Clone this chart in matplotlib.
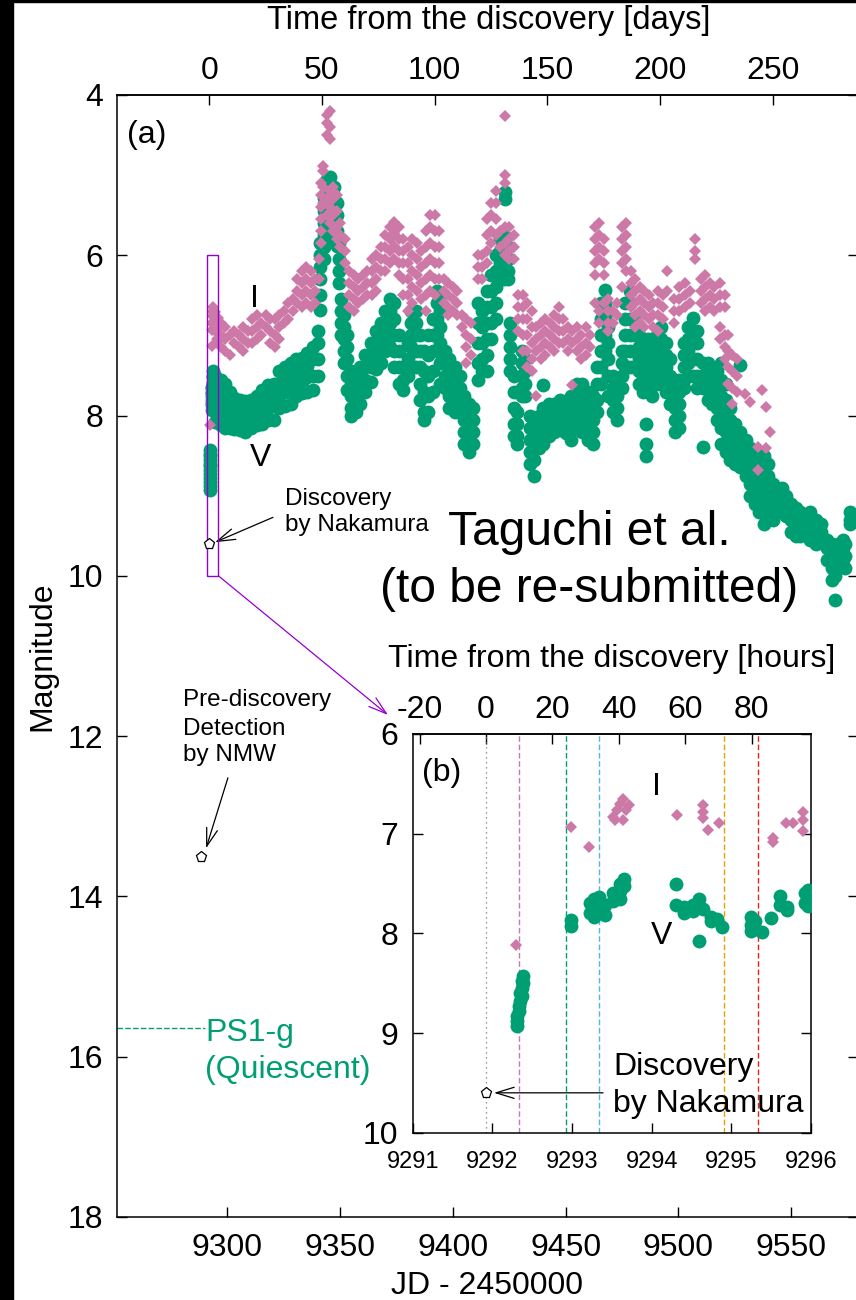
import matplotlib
matplotlib.use("Agg")
import matplotlib.pyplot as plt
from matplotlib.patches import Rectangle
import numpy as np

plt.rcParams["font.family"] = ["Liberation Sans", "DejaVu Sans"]
plt.rcParams["axes.unicode_minus"] = False

T0 = 9291.92  # discovery epoch, JD - 2450000

# V band: (JD - 2450000, magnitudes at that epoch)
V_FIRST_DAYS = [
    (9292.31, [8.83, 8.88, 8.93]), (9292.33, [8.73, 8.78]), (9292.35, [8.60, 8.68]),
    (9292.37, [8.48, 8.55, 8.63]), (9292.39, [8.43, 8.50]), (9292.99, [7.87, 7.93]),
    (9293.22, [7.70, 7.80]), (9293.28, [7.66, 7.76, 7.84]), (9293.34, [7.64, 7.72]),
    (9293.42, [7.72, 7.82]), (9293.52, [7.60, 7.68]), (9293.60, [7.50, 7.58, 7.66]),
    (9293.65, [7.45, 7.52]), (9294.31, [7.50, 7.72]), (9294.40, [7.74, 7.80]),
    (9294.52, [7.72, 7.78]), (9294.60, [7.66, 8.08]), (9294.65, [7.76]),
    (9294.75, [7.84, 7.88]), (9294.82, [7.86]), (9294.88, [7.94]),
    (9295.25, [7.84, 7.92, 7.98]), (9295.30, [7.88, 7.96]), (9295.38, [7.99]),
    (9295.50, [7.85]), (9295.61, [7.63, 7.72]), (9295.70, [7.74, 7.77]),
    (9295.92, [7.60, 7.70]), (9295.96, [7.57, 7.66, 7.73]),
]
V_OBS = [
    (9297, [7.55, 7.7, 7.85, 8.0, 8.12]), (9299, [7.6, 7.75, 7.9, 8.05, 8.15]),
    (9301, [7.7, 7.85, 8.0, 8.15]), (9303, [7.78, 7.9, 8.05, 8.17]),
    (9305.5, [7.8, 7.95, 8.1, 8.18]), (9308, [7.82, 7.95, 8.08, 8.2]),
    (9310.5, [7.8, 7.92, 8.05, 8.15]), (9313, [7.75, 7.88, 8.0, 8.12]),
    (9315.5, [7.68, 7.8, 7.95, 8.1]), (9318, [7.62, 7.75, 7.9, 8.05]),
    (9320.5, [7.6, 7.72, 7.88, 8.05]), (9323, [7.45, 7.6, 7.75, 7.9]),
    (9325.5, [7.4, 7.55, 7.7, 7.88]), (9328, [7.35, 7.5, 7.65, 7.85]),
    (9330.5, [7.3, 7.45, 7.6, 7.75]), (9333, [7.28, 7.42, 7.58, 7.72]),
    (9335.5, [7.22, 7.38, 7.52, 7.7]), (9338, [7.15, 7.3, 7.5, 7.68]),
    (9340, [6.95, 7.1, 7.3, 7.5]), (9341.2, [5.85, 6.0, 6.15, 6.3, 6.5, 6.68]),
    (9342.7, [5.28, 5.45, 5.6, 5.75, 5.9, 6.05]), (9344, [5.05, 5.2, 5.35, 5.5, 5.7]),
    (9345.5, [5.02, 5.18, 5.35, 5.55, 5.8]), (9347.2, [5.15, 5.3, 5.45, 5.62]),
    (9348.7, [5.35, 5.5, 5.7, 5.88]), (9349.5, [5.85, 6.05, 6.2, 6.35]),
    (9350.3, [6.55, 6.7, 6.85, 7.0]), (9351.5, [6.75, 6.9, 7.05, 7.2, 7.35]),
    (9353, [7.0, 7.15, 7.3, 7.5, 7.68]), (9355, [7.45, 7.6, 7.75, 7.9, 8.0]),
    (9357, [7.6, 7.72, 7.85, 7.95]), (9359, [7.4, 7.55, 7.7, 7.85]),
    (9361, [7.25, 7.4, 7.55, 7.7]), (9363.5, [7.1, 7.25, 7.4, 7.58]),
    (9366, [6.95, 7.1, 7.25, 7.42]), (9368, [6.85, 7.0, 7.15, 7.35]),
    (9370, [6.7, 6.85, 7.0, 7.2]), (9372, [6.55, 6.7, 6.85, 7.0, 7.15]),
    (9374, [6.6, 6.8, 7.0, 7.2, 7.4]), (9376, [7.0, 7.2, 7.4, 7.6]),
    (9378, [7.4, 7.55, 7.68]), (9380, [7.1, 7.3, 7.5]),
    (9381.5, [6.7, 6.85, 7.0, 7.15]), (9383.5, [6.7, 6.85, 7.0, 7.2, 7.4]),
    (9385.5, [7.0, 7.2, 7.4, 7.6, 7.8]), (9387, [7.2, 7.45, 7.7, 7.95, 8.05]),
    (9389, [7.0, 7.25, 7.5, 7.75, 7.95]), (9391, [6.8, 7.0, 7.2, 7.45, 7.7]),
    (9393, [6.45, 6.6, 6.8, 7.0, 7.2]), (9394.5, [6.5, 6.7, 6.9, 7.1, 7.35, 7.6]),
    (9396.5, [7.2, 7.35, 7.5, 7.65]), (9398.5, [7.3, 7.45, 7.6, 7.75, 7.9]),
    (9401, [7.4, 7.55, 7.7, 7.85, 7.95]), (9403, [7.5, 7.65, 7.8, 7.95]),
    (9405, [7.75, 7.9, 8.05, 8.2, 8.35]), (9407, [7.85, 8.0, 8.15, 8.3, 8.45]),
    (9409, [7.9, 8.05, 8.2, 8.35]), (9411, [6.6, 6.85, 7.1, 7.35, 7.55]),
    (9413, [6.7, 6.9, 7.1, 7.3, 7.45]), (9415, [6.45, 6.65, 6.85, 7.05, 7.25, 7.45]),
    (9417, [6.25, 6.45, 6.65, 6.85, 7.05]), (9419, [6.0, 6.2, 6.4, 6.6, 6.8]),
    (9421, [5.8, 5.95, 6.1, 6.25]), (9422.5, [5.75, 5.9, 6.05, 6.2, 6.3]),
    (9423.2, [5.21, 5.3]), (9424.5, [5.9, 6.05, 6.2, 6.3]),
    (9425.5, [6.85, 7.0, 7.15, 7.3, 7.45]), (9427, [7.5, 7.7, 7.9, 8.1, 8.25]),
    (9428.5, [7.95, 8.1, 8.25, 8.35]), (9430.5, [7.2, 7.35, 7.5, 7.65, 7.75]),
    (9432, [7.3, 7.45, 7.6, 7.75]), (9434, [8.0, 8.15, 8.3, 8.45, 8.6]),
    (9436, [8.1, 8.25, 8.4, 8.55, 8.75]), (9438, [8.0, 8.15, 8.3, 8.4]),
    (9440, [7.62, 7.9, 8.05, 8.2, 8.35]), (9442.5, [7.85, 7.95, 8.05, 8.15, 8.25]),
    (9445, [7.85, 7.95, 8.08, 8.2]), (9447.5, [7.8, 7.92, 8.05, 8.18]),
    (9450, [7.82, 7.95, 8.08, 8.22]), (9452.5, [7.75, 7.88, 8.0, 8.15, 8.3]),
    (9455, [7.6, 7.72, 7.85, 8.0, 8.15]), (9457.5, [7.6, 7.75, 7.9, 8.05, 8.2]),
    (9460, [7.7, 7.85, 8.0, 8.15, 8.3]), (9462, [7.75, 7.9, 8.05, 8.2, 8.36]),
    (9464, [7.4, 7.6, 7.8, 7.95]), (9465.5, [6.6, 6.8, 7.0, 7.2, 7.4, 7.6]),
    (9467.5, [6.43, 6.6, 6.8, 7.0, 7.2]), (9469, [6.7, 6.9, 7.1, 7.3, 7.5, 7.75]),
    (9471, [7.5, 7.65, 7.8, 7.95]), (9473, [7.6, 7.75, 7.9, 8.05]),
    (9475, [7.2, 7.35, 7.5, 7.65]), (9476.5, [6.6, 6.8, 7.0, 7.2, 7.4]),
    (9478.5, [6.45, 6.6, 6.8, 7.0, 7.2, 7.4]), (9480.5, [6.8, 7.0, 7.2, 7.4]),
    (9482.5, [7.0, 7.15, 7.3, 7.45, 7.6]), (9484.5, [7.1, 7.25, 7.4, 7.55, 7.7]),
    (9485.5, [8.1, 8.36, 8.5]), (9486.5, [7.05, 7.2, 7.35, 7.5, 7.65]),
    (9488.5, [7.15, 7.3, 7.45, 7.6, 7.75]), (9490.5, [7.0, 7.15, 7.3, 7.45, 7.6]),
    (9492.5, [6.9, 7.05, 7.2, 7.35, 7.5]), (9494.5, [7.1, 7.25, 7.4, 7.55, 7.7]),
    (9496.5, [7.3, 7.5, 7.7, 7.85]), (9498.5, [7.6, 7.75, 7.9, 8.05, 8.2]),
    (9500.5, [7.55, 7.7, 7.85, 8.0, 8.15]), (9502.5, [7.1, 7.25, 7.4, 7.55, 7.65]),
    (9504.5, [6.9, 7.05, 7.2, 7.35, 7.5]), (9506.5, [6.78, 6.95, 7.1, 7.3, 7.5]),
    (9508.5, [6.95, 7.1, 7.3, 7.5, 7.65]), (9511, [7.35, 7.5, 7.65, 8.39]),
    (9513, [7.35, 7.5, 7.65, 7.8]), (9515, [7.4, 7.55, 7.7, 7.85]),
    (9517, [7.45, 7.6, 7.75, 7.9, 8.05]), (9519, [7.35, 7.55, 7.75, 7.95, 8.15, 8.35]),
    (9521, [7.6, 7.8, 8.0, 8.2, 8.45]), (9523, [7.9, 8.05, 8.2, 8.35, 8.55]),
    (9525, [8.1, 8.25, 8.4, 8.6]), (9527.5, [7.37, 8.2, 8.35, 8.5, 8.64]),
    (9530, [8.3, 8.45, 8.6, 8.75]), (9532, [8.4, 8.55, 8.7, 8.85, 9.0]),
    (9534, [8.5, 8.65, 8.8, 8.95, 9.1]), (9536, [8.45, 8.6, 8.75, 8.9, 9.05, 9.2]),
    (9538, [8.5, 8.65, 8.8, 9.0, 9.2, 9.35]), (9540, [8.6, 8.75, 8.9, 9.05, 9.2]),
    (9542, [8.85, 9.0, 9.15, 9.3]), (9544, [8.9, 9.0, 9.1]),
    (9546, [8.9, 9.05, 9.2]), (9548, [9.0, 9.1, 9.25]),
    (9550, [9.1, 9.2, 9.3, 9.45]), (9552, [9.15, 9.25, 9.35, 9.5]),
    (9554, [9.2, 9.3, 9.4, 9.5]), (9556, [9.25, 9.35, 9.45]),
    (9558.5, [9.2, 9.35, 9.5, 9.55]), (9561, [9.3, 9.4, 9.5, 9.6]),
    (9563.5, [9.35, 9.45, 9.55]), (9566, [9.55, 9.65, 9.8]),
    (9568, [9.6, 9.75, 9.9, 10.05]), (9569.5, [9.85, 10.0, 10.3]),
    (9571, [9.6, 9.7, 9.8]), (9573, [9.55, 9.65, 9.8]),
    (9574, [9.6, 9.75, 9.9]), (9576, [9.2, 9.3, 9.35]), (9578, [9.25, 9.3]),
]

# I band
I_FIRST_DAYS = [
    (9292.30, [8.12]), (9292.99, [6.93]), (9293.21, [7.13]), (9293.52, [6.83]),
    (9293.54, [6.86]), (9293.56, [6.76]), (9293.60, [6.70]), (9293.64, [6.65, 6.86]),
    (9293.68, [6.76]), (9293.71, [6.71]), (9294.32, [6.81]), (9294.65, [6.71, 6.78, 6.84]),
    (9294.71, [6.96]), (9294.84, [6.89]), (9295.52, [7.04, 7.08]), (9295.69, [6.89]),
    (9295.77, [6.89]), (9295.90, [6.78, 6.86, 6.97]),
]
I_OBS = [
    (9297, [6.85, 7.0, 7.15]), (9299, [6.9, 7.05, 7.2]), (9301, [7.0, 7.25]),
    (9303, [6.95, 7.1]), (9305, [7.0, 7.15]), (9307, [6.9, 7.05, 7.2]),
    (9309, [6.95, 7.1]), (9311, [6.8, 6.95, 7.1]), (9313, [6.75, 6.9, 7.05]),
    (9315, [6.85, 7.0]), (9317, [6.75, 6.9]), (9319, [6.8, 6.95, 7.1]),
    (9321, [6.8, 7.0, 7.15]), (9323, [6.75, 6.9, 7.05]), (9325, [6.7, 6.85]),
    (9327, [6.6, 6.8]), (9329, [6.55, 6.7]), (9331, [6.3, 6.45, 6.6]),
    (9333, [6.2, 6.35, 6.5, 6.65]), (9335, [6.15, 6.3, 6.45, 6.6]),
    (9337, [6.2, 6.35, 6.5, 6.65]), (9339, [6.3, 6.45, 6.6]), (9340.5, [6.05, 6.3]),
    (9341.5, [5.1, 5.25, 5.4, 5.55, 5.7, 5.85]), (9342.5, [4.88, 4.95, 5.15, 5.35]),
    (9344, [4.25, 4.35, 4.5, 5.3, 5.5]), (9345.5, [4.2, 4.4, 4.55, 5.2, 5.4, 5.6]),
    (9347, [5.15, 5.3, 5.5, 5.7]), (9348.5, [5.25, 5.45, 5.65, 5.8]),
    (9350, [5.6, 5.75, 5.9]), (9352, [5.8, 5.95, 6.1]),
    (9354, [6.2, 6.35, 6.5, 6.65]), (9356, [6.25, 6.4, 6.55, 6.7]),
    (9358, [6.3, 6.45, 6.6]), (9360, [6.25, 6.4, 6.55]), (9362, [6.2, 6.35, 6.5]),
    (9364, [6.05, 6.2, 6.35, 6.5]), (9366, [6.0, 6.15, 6.3, 6.45]),
    (9368, [5.9, 6.05, 6.2]), (9370, [5.75, 5.9, 6.05, 6.2]),
    (9372, [5.65, 5.8, 5.95, 6.1]), (9374, [5.58, 5.72, 5.88, 6.05]),
    (9376, [5.65, 5.8, 5.95, 6.1, 6.25]), (9378, [5.8, 5.95, 6.1, 6.3, 6.5]),
    (9380, [5.9, 6.1, 6.3, 6.5, 6.7]), (9382, [5.8, 6.0, 6.2, 6.4, 6.6]),
    (9384, [5.85, 6.05, 6.25, 6.45]), (9386, [5.95, 6.15, 6.35, 6.55]),
    (9388, [5.7, 5.9, 6.1, 6.3, 6.5, 6.7]), (9390, [5.5, 5.65, 5.85, 6.05, 6.25, 6.45]),
    (9392, [5.5, 5.7, 5.9, 6.1, 6.3, 6.5]), (9394, [5.7, 5.9, 6.1, 6.3]),
    (9396, [6.3, 6.45, 6.6]), (9398, [6.35, 6.5, 6.65, 6.75]), (9400, [6.4, 6.55, 6.7]),
    (9402, [6.45, 6.6, 6.75]), (9404, [6.75, 6.9]), (9406, [6.8, 7.0, 7.15, 7.35]),
    (9408, [6.85, 7.05, 7.25]), (9411, [6.0, 6.15, 6.3]), (9413, [6.0, 6.15, 6.3]),
    (9415, [5.55, 5.75, 5.95, 6.1]), (9417, [5.35, 5.5, 5.7, 5.85]),
    (9419, [5.2, 5.35, 5.55, 5.75]), (9421, [5.7, 5.9]),
    (9423.3, [4.26, 5.0, 5.1, 5.65, 5.85, 6.0]), (9425, [5.65, 5.8, 5.95, 6.05]),
    (9427, [5.75, 5.9, 6.05]), (9429, [6.5, 6.65, 6.8, 6.95]),
    (9431, [6.5, 6.65, 6.8, 7.0, 7.2]), (9433, [6.6, 6.8, 7.0, 7.2, 7.4]),
    (9435, [6.7, 6.9, 7.1, 7.3, 7.45]), (9437, [6.9, 7.05, 7.2, 7.75]),
    (9439, [6.85, 7.0, 7.15, 7.3]), (9441, [6.8, 6.95, 7.1, 7.25]),
    (9443, [6.85, 7.0, 7.15]), (9445, [6.75, 6.9, 7.05, 7.2]),
    (9447, [6.65, 6.8, 6.95, 7.1]), (9449, [6.8, 6.95, 7.1]), (9451, [6.9, 7.05, 7.2]),
    (9453, [6.95, 7.1, 7.62]), (9455, [6.9, 7.05, 7.2]), (9457, [7.0, 7.15, 7.3]),
    (9459, [6.9, 7.1, 7.25]), (9461, [7.0, 7.15]),
    (9463, [5.65, 5.8, 5.95, 6.1, 6.25, 6.6]), (9465, [5.6, 5.75, 5.9, 6.05, 6.7, 6.85]),
    (9467, [5.8, 5.95, 6.1, 6.25, 6.6]), (9469, [6.55, 6.7, 6.85, 6.95]),
    (9471, [6.7, 6.85]), (9473, [6.6, 6.75]), (9475, [5.65, 5.8, 5.95, 6.1, 6.4]),
    (9477, [5.6, 5.75, 5.9, 6.05, 6.2]), (9479, [6.2, 6.35, 6.5, 6.65]),
    (9481, [6.3, 6.45, 6.6, 6.75, 6.9]), (9483, [6.4, 6.55, 6.7, 6.85]),
    (9485, [6.45, 6.6, 6.75, 6.9]), (9487, [6.5, 6.65, 6.8]), (9489, [6.6, 6.75, 6.9]),
    (9491, [6.45, 6.6, 6.75, 6.95]), (9493, [6.5, 6.65, 6.8]), (9495, [6.2, 6.45]),
    (9498, [6.55, 6.7, 6.85]), (9500.5, [6.4, 6.55, 6.7]), (9503, [6.35, 6.5, 6.65]),
    (9505, [6.45, 6.6]), (9507.5, [5.8, 5.95, 6.05]), (9510, [6.3, 6.45, 6.6]),
    (9512, [6.25, 6.4, 6.55, 6.7]), (9514, [6.35, 6.5, 6.65]), (9516, [6.4, 6.55, 6.7]),
    (9518.5, [6.35, 6.5, 6.65, 6.9, 7.05]), (9520.5, [6.5, 6.65, 7.0, 7.15, 7.3]),
    (9522, [7.0, 7.2, 7.4, 7.6]), (9524, [7.25, 7.45, 7.65, 7.85]),
    (9526, [7.3, 7.5, 7.7]), (9529.8, [7.73]), (9532, [7.83]), (9535.4, [8.39, 8.68]),
    (9537.2, [7.68]), (9538.7, [7.89]), (9539, [8.4]), (9540.6, [8.2]),
]

DISCOVERY_JD, DISCOVERY_MAG = 9291.92, 9.60
PREDISC_JD, PREDISC_MAG = 9288.3, 13.51
PS1_G_MAG = 15.64

# marked epochs in panel (b)
EVENT_JD = [9292.33, 9292.92, 9293.34, 9294.91, 9295.33]
EVENT_COLORS = ["#CC79A7", "#009E73", "#56B4E9", "#E69F00", "#E8201A"]

V_COLOR = "#009E73"
I_COLOR = "#CC79A7"
BOX_COLOR = "#9400D3"
W, H = 856, 1300


def flatten(obs):
    jd, mag = [], []
    for t, mags in obs:
        jd += [t] * len(mags)
        mag += mags
    return np.array(jd), np.array(mag)


def fx(px):
    return px / W


def fy(py):
    return 1 - py / H


def arrow(ax, tip, start, color="black", **kw):
    ax.annotate("", xy=tip, xytext=start,
                arrowprops=dict(arrowstyle="->,head_length=1.3,head_width=0.4",
                                color=color, lw=0.9, shrinkA=0, shrinkB=0,
                                mutation_scale=10), annotation_clip=False, **kw)


def draw_curves(ax):
    vj, vm = flatten(V_FIRST_DAYS + V_OBS)
    ij, im = flatten(I_FIRST_DAYS + I_OBS)
    ax.plot(vj, vm, ls="none", marker="o", ms=10, color=V_COLOR, mew=0, zorder=3)
    ax.plot(ij, im, ls="none", marker="D", ms=6.5, color=I_COLOR, mew=0, zorder=4)


def pentagon(ax, x, y):
    ax.plot([x], [y], ls="none", marker="p", ms=8, mfc="white", mec="black",
            mew=0.9, zorder=6)


fig = plt.figure(figsize=(W / 100, H / 100), dpi=100)
fig.patches.append(Rectangle((0, 0), fx(13), 1, transform=fig.transFigure,
                             color="black", zorder=0))
fig.patches.append(Rectangle((0, fy(1.5)), 1, 1.5 / H, transform=fig.transFigure,
                             color="black", zorder=0))

# ---- panel (a)
ax = fig.add_axes([fx(117), fy(1217), 740.5 / W, 1122 / H])
draw_curves(ax)
ax.set_xlim(9251, 9579.5)
ax.set_ylim(18, 4)
ax.set_xticks([9300, 9350, 9400, 9450, 9500, 9550])
ax.set_yticks(range(4, 19, 2))
ax.tick_params(axis="y", right=True, direction="in", length=7.2, width=1,
               labelsize=23, pad=10)
ax.tick_params(axis="x", top=False, direction="in", length=7.2, width=1,
               labelsize=23, pad=11.5)
for s in ax.spines.values():
    s.set_linewidth(1.1)

top = ax.secondary_xaxis("top", functions=(lambda x: x - T0, lambda d: d + T0))
top.set_xticks([0, 50, 100, 150, 200, 250])
top.tick_params(direction="in", length=7.2, width=1, labelsize=23, pad=6.7)
top.spines["top"].set_linewidth(1.1)

ax.text(9264.3, 4.5, "(a)", fontsize=23, ha="center", va="center")
ax.text(9311.8, 6.64, "I", fontsize=23, ha="center", va="baseline")
ax.text(9314.9, 8.63, "V", fontsize=23, ha="center", va="baseline")

ax.add_patch(Rectangle((9291, 6), 5, 4, fill=False, ec=BOX_COLOR, lw=1, zorder=5))
arrow(ax, (fx(388), fy(715)), (9296, 10), color=BOX_COLOR,
      xycoords="figure fraction", textcoords="data")

pentagon(ax, DISCOVERY_JD, DISCOVERY_MAG)
arrow(ax, (9294.5, 9.58), (9320.2, 9.27))
ax.text(9325.5, 9.11, "Discovery", fontsize=17.5, va="baseline")
ax.text(9325.5, 9.445, "by Nakamura", fontsize=17.5, va="baseline")

pentagon(ax, PREDISC_JD, PREDISC_MAG)
arrow(ax, (9290.5, 13.40), (9300.2, 12.52))
for txt, m in zip(["Pre-discovery", "Detection", "by NMW"], [11.63, 11.98, 12.31]):
    ax.text(9280.4, m, txt, fontsize=17.5, va="baseline")

ax.plot([9251, 9290], [PS1_G_MAG, PS1_G_MAG], color=V_COLOR, lw=1,
        dashes=(4, 1.6), zorder=2)
ax.text(9290.0, 15.80, "PS1-g", fontsize=23, color=V_COLOR, va="baseline")
ax.text(9290.0, 16.26, "(Quiescent)", fontsize=23, color=V_COLOR, va="baseline")

ax.text(9460.4, 9.61, "Taguchi et al.", fontsize=34.5, ha="center", va="baseline")
ax.text(9460.4, 10.32, "(to be re-submitted)", fontsize=34.5, ha="center",
        va="baseline")

fig.text(fx(489), fy(29.3), "Time from the discovery [days]", fontsize=23.5,
         ha="center", va="baseline")
fig.text(fx(487), fy(1294), "JD - 2450000", fontsize=23, ha="center",
         va="baseline")
fig.text(fx(42), fy(656), "Magnitude", fontsize=23, rotation=90, ha="center",
         va="center")

# ---- panel (b)
ins = fig.add_axes([fx(412.7), fy(1132.7), 398.3 / W, 398.7 / H])
ins.set_facecolor("white")
draw_curves(ins)
ins.axvline(T0, color="#777777", lw=0.9, dashes=(1, 3), zorder=1)
for jd, c in zip(EVENT_JD, EVENT_COLORS):
    ins.axvline(jd, color=c, lw=1, dashes=(4, 2), zorder=1)
ins.set_xlim(9291, 9296)
ins.set_ylim(10, 6)
ins.set_xticks(range(9291, 9297))
ins.set_yticks([6, 7, 8, 9, 10])
ins.tick_params(axis="x", top=False, direction="in", length=7.2, width=1,
                labelsize=17, pad=13.5)
ins.tick_params(axis="y", right=True, direction="in", length=7.2, width=1,
                labelsize=23, pad=10.5)
for s in ins.spines.values():
    s.set_linewidth(1.1)

hours = ins.secondary_xaxis("top", functions=(lambda x: (x - T0) * 24,
                                               lambda h: h / 24 + T0))
hours.set_xticks([-20, 0, 20, 40, 60, 80])
hours.tick_params(direction="in", length=7.2, width=1, labelsize=23, pad=6.5)
hours.spines["top"].set_linewidth(1.1)

ins.text(9291.36, 6.39, "(b)", fontsize=23, ha="center", va="center")
ins.text(9294.06, 6.61, "I", fontsize=23, ha="center", va="baseline")
ins.text(9294.13, 8.11, "V", fontsize=23, ha="center", va="baseline")

pentagon(ins, DISCOVERY_JD, DISCOVERY_MAG)
arrow(ins, (9292.02, 9.60), (9293.39, 9.60))
ins.text(9293.52, 9.42, "Discovery", fontsize=23, va="baseline")
ins.text(9293.52, 9.79, "by Nakamura", fontsize=23, va="baseline")

fig.text(fx(611.7), fy(667), "Time from the discovery [hours]", fontsize=23,
         ha="center", va="baseline")

fig.savefig("out.png", dpi=100)
